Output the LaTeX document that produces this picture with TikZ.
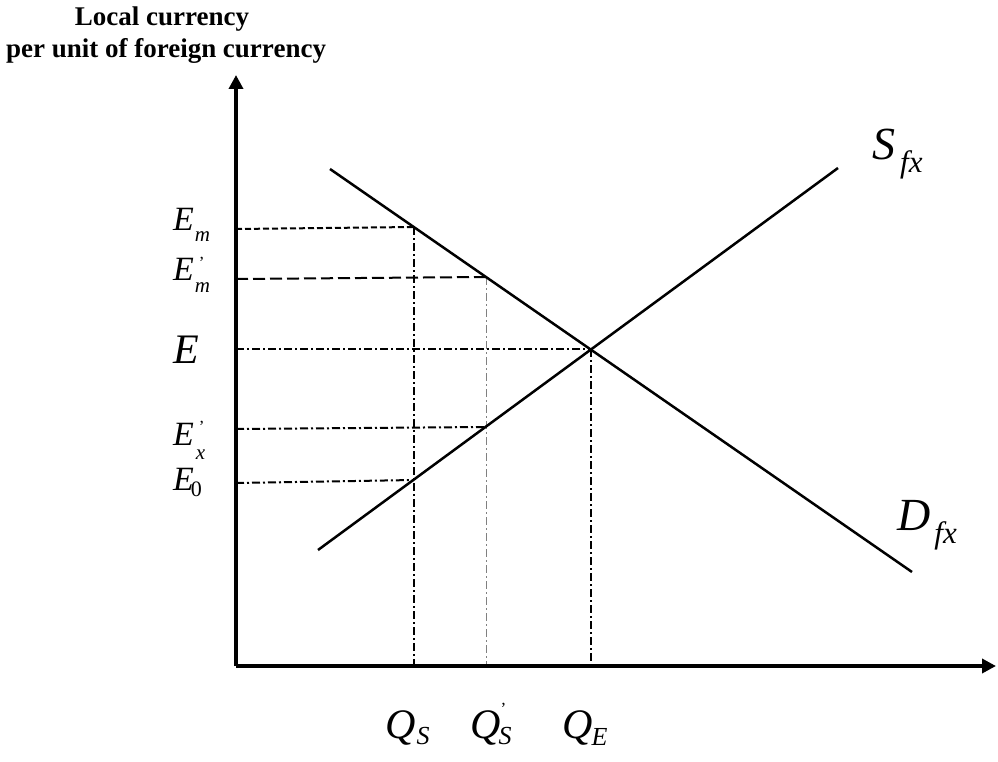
\documentclass[tikz,border=0pt]{standalone}
\usepackage{fontspec}
\setmainfont{Liberation Serif}
\usetikzlibrary{arrows.meta}
\newcommand\myfs[2]{{\fontsize{#1}{#1}\selectfont #2}}
\tikzset{
  axis/.style={line width=4pt,-{Triangle[length=14pt,width=14pt]}},
  curve/.style={line width=2.5pt},
  shortdash/.style={line width=2pt,dash pattern=on 6pt off 3pt},
  longdash/.style={line width=2pt,dash pattern=on 12pt off 5pt},
  dashdot/.style={line width=2pt,dash pattern=on 8pt off 3pt on 2pt off 3pt},
  thindashdot/.style={line width=1pt,gray,dash pattern=on 8pt off 3pt on 2pt off 3pt},
  lbl/.style={inner sep=0pt,anchor=base west,font=\itshape},
  ttl/.style={inner sep=0pt,anchor=base,font=\bfseries\fontsize{27}{27}\selectfont},
}
\begin{document}
\begin{tikzpicture}[x=1pt,y=-1pt]
\useasboundingbox (0,0) rectangle (998,762);
% title
\node[ttl] (t1) at (162,26) {Local currency};
\node[ttl] (t2) at (166,58) {per unit of foreign currency};
% axes
\coordinate (O) at (236,666);
\coordinate (Ytop) at (236,75);
\coordinate (Xend) at (996,666);
% curves
\coordinate (D1) at (330,169);
\coordinate (D2) at (912,572);
\coordinate (S1) at (318,550);
\coordinate (S2) at (838,168);
% points
\coordinate (pm) at (414,227);
\coordinate (pmp) at (486,277);
\coordinate (pe) at (591,349);
\coordinate (px) at (486,427);
\coordinate (p0) at (414,480);
\coordinate (am) at (236,229);
\coordinate (amp) at (236,279);
\coordinate (ae) at (236,349);
\coordinate (ax) at (236,429);
\coordinate (a0) at (236,483);
\coordinate (qs) at (414,666);
\coordinate (qsp) at (486,666);
\coordinate (qe) at (591,666);
% guide lines
\draw[shortdash] (am) -- (pm);
\draw[longdash] (amp) -- (pmp);
\draw[dashdot] (ae) -- (pe);
\draw[dashdot] (ax) -- (px);
\draw[dashdot] (a0) -- (p0);
\draw[dashdot] (pm) -- (qs);
\draw[thindashdot] (pmp) -- (qsp);
\draw[dashdot] (pe) -- (qe);
% supply and demand
\draw[curve] (D1) -- (D2);
\draw[curve] (S1) -- (S2);
% axes
\draw[axis] (O) -- (Ytop);
\draw[axis] (O) -- (Xend);
% labels
\node[lbl] (lEm) at (173,230) {\myfs{34}{E}\kern1pt\raisebox{-11pt}{\myfs{21}{m}}};
\node[lbl] (lEmp) at (173,280) {\myfs{34}{E}\rlap{\kern5pt\raisebox{12pt}{\myfs{17}{\upshape '}}}\kern1pt\raisebox{-12pt}{\myfs{21}{m}}};
\node[lbl] (lE) at (173,363) {\myfs{42}{E}};
\node[lbl] (lEx) at (173,445) {\myfs{34}{E}\rlap{\kern5pt\raisebox{13pt}{\myfs{17}{\upshape '}}}\kern2pt\raisebox{-14pt}{\myfs{21}{x}}};
\node[lbl] (lE0) at (173,490) {\myfs{34}{E}\kern-3pt\raisebox{-6pt}{\myfs{22}{\upshape 0}}};
\node[lbl] (lQs) at (385,738) {\myfs{42}{Q}\kern1pt\raisebox{-6pt}{\myfs{26}{S}}};
\node[lbl] (lQsp) at (470,738) {\myfs{42}{Q}\rlap{\kern0pt\raisebox{24pt}{\myfs{17}{\upshape '}}}\kern-2pt\raisebox{-6pt}{\myfs{26}{S}}};
\node[lbl] (lQe) at (562,738) {\myfs{42}{Q}\kern-1pt\raisebox{-7pt}{\myfs{26}{E}}};
\node[lbl] (lS) at (872,160) {\myfs{46}{S}\kern5pt\raisebox{-13pt}{\myfs{31}{fx}}};
\node[lbl] (lD) at (897,530) {\myfs{46}{D}\kern4pt\raisebox{-13pt}{\myfs{31}{fx}}};
\end{tikzpicture}
\end{document}
